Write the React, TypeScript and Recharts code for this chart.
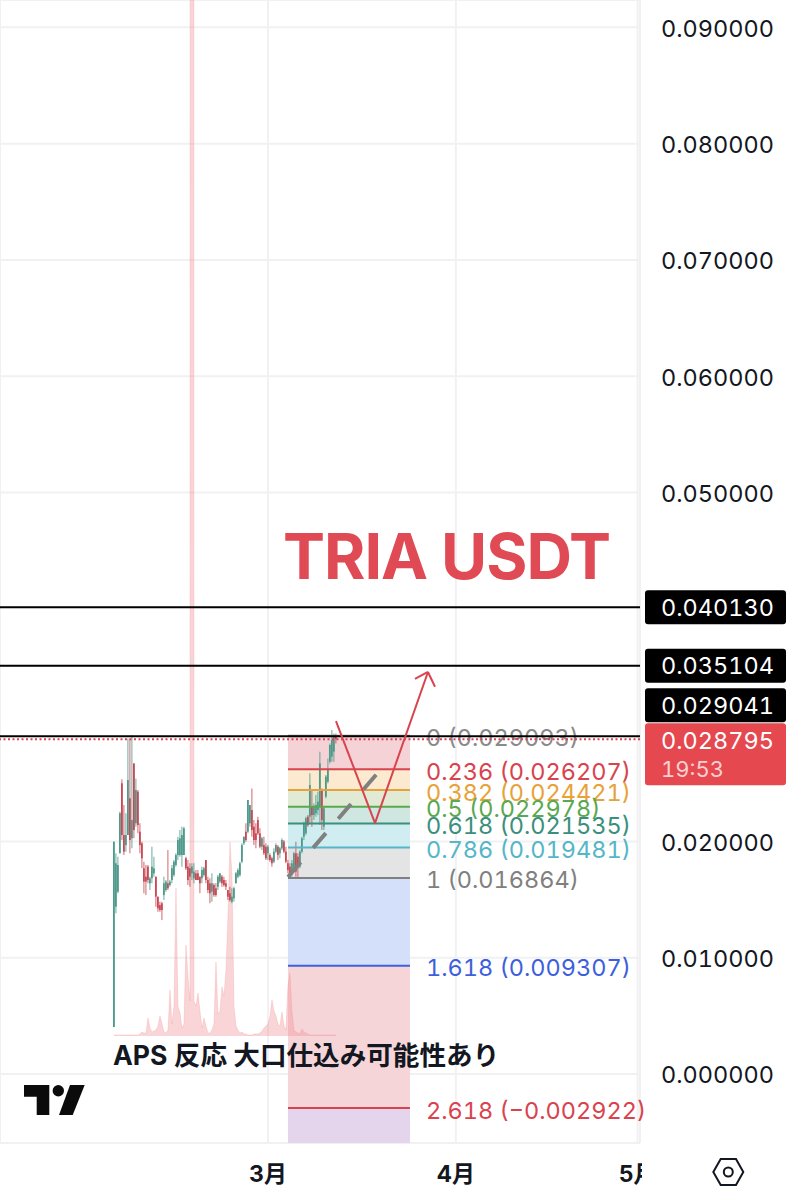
import React from 'react';
import { Area, Bar, CartesianGrid, ComposedChart, ReferenceArea, ReferenceLine, XAxis, YAxis } from 'recharts';

// x positions are days relative to 1 March, candles are about 8h apart
const candleDays = [
  -25.41, -25.08, -24.75, -24.42, -24.09, -23.76, -23.43, -23.1, -22.77, -22.44, -22.11, -21.78, -21.45, -21.12,
  -20.79, -20.46, -20.13, -19.8, -19.47, -19.14, -18.81, -18.48, -18.15, -17.82, -17.49, -17.16, -16.83, -16.5,
  -16.17, -15.84, -15.51, -15.18, -14.85, -14.52, -14.19, -13.86, -13.53, -13.2, -12.87, -12.54, -12.21, -11.88,
  -11.55, -11.22, -10.89, -10.56, -10.23, -9.9, -9.57, -9.24, -8.91, -8.58, -8.25, -7.92, -7.59, -7.26, -6.93, -6.6,
  -6.27, -5.94, -5.61, -5.28, -4.95, -4.62, -4.29, -3.96, -3.63, -3.3, -2.97, -2.64, -2.31, -1.98, -1.65, -1.32,
  -0.99, -0.66, -0.33, 0, 0.33, 0.66, 0.99, 1.32, 1.65, 1.98, 2.31, 2.64, 2.97, 3.3, 3.63, 3.96, 4.29, 4.62, 4.95,
  5.28, 5.61, 5.94, 6.27, 6.6, 6.93, 7.26, 7.59, 7.92, 8.25, 8.58, 8.91, 9.24, 9.57, 9.9, 10.23, 10.56, 10.89, 11.22,
];
const candleOpen = [
  0.00404, 0.01439, 0.01568, 0.01898, 0.025, 0.02055, 0.01969, 0.02055, 0.02371, 0.02027, 0.02671, 0.02156, 0.02428,
  0.02084, 0.01984, 0.01769, 0.01697, 0.01783, 0.0164, 0.01683, 0.01726, 0.01697, 0.01525, 0.01453, 0.01468, 0.01539,
  0.01582, 0.0164, 0.01625, 0.01668, 0.01711, 0.01797, 0.01883, 0.01883, 0.01883, 0.01883, 0.01855, 0.01783, 0.01769,
  0.01726, 0.01683, 0.01726, 0.01726, 0.01697, 0.01683, 0.01711, 0.0184, 0.01668, 0.0164, 0.01568, 0.01625, 0.01597,
  0.01611, 0.01654, 0.01697, 0.01668, 0.0164, 0.01582, 0.01554, 0.01482, 0.01511, 0.0164, 0.01697, 0.01711, 0.01826,
  0.01984, 0.02084, 0.02084, 0.02156, 0.0227, 0.02127, 0.0207, 0.02184, 0.0207, 0.01955, 0.01969, 0.01955, 0.01898,
  0.01883, 0.01855, 0.01826, 0.01912, 0.01955, 0.01898, 0.01941, 0.01998, 0.01912, 0.01812, 0.01783, 0.01726, 0.01769,
  0.01898, 0.01869, 0.01783, 0.01912, 0.02041, 0.0207, 0.02213, 0.02213, 0.02299, 0.02227, 0.02242, 0.0227, 0.02299,
  0.02442, 0.02127, 0.02385, 0.02514, 0.02686, 0.02729, 0.02772, 0.02915,
];
const candleHigh = [
  0.01998, 0.01898, 0.01869, 0.02256, 0.02534, 0.02313, 0.02242, 0.02886, 0.02886, 0.02915, 0.02671, 0.02542, 0.02442,
  0.02156, 0.01998, 0.01826, 0.01797, 0.01797, 0.01697, 0.01955, 0.01869, 0.01697, 0.01525, 0.01482, 0.01482, 0.01697,
  0.01668, 0.01926, 0.01668, 0.01797, 0.0184, 0.01898, 0.02041, 0.02098, 0.02127, 0.02127, 0.01869, 0.0184, 0.01812,
  0.01812, 0.01812, 0.01754, 0.01754, 0.01697, 0.01783, 0.01783, 0.0184, 0.01697, 0.01683, 0.01726, 0.0164, 0.0164,
  0.01711, 0.01726, 0.01711, 0.01697, 0.01668, 0.01582, 0.01611, 0.01597, 0.01611, 0.0174, 0.01769, 0.01826, 0.01984,
  0.02041, 0.02156, 0.02356, 0.02313, 0.02456, 0.02184, 0.02156, 0.02213, 0.02113, 0.02041, 0.02041, 0.01984, 0.01969,
  0.01898, 0.01869, 0.01941, 0.01984, 0.01969, 0.01955, 0.02027, 0.02012, 0.01955, 0.0184, 0.01812, 0.0184, 0.01912,
  0.01998, 0.01898, 0.01926, 0.02041, 0.0217, 0.02213, 0.02227, 0.02586, 0.02442, 0.02327, 0.02399, 0.02428, 0.02772,
  0.02456, 0.02299, 0.02571, 0.02714, 0.02843, 0.02958, 0.02929, 0.02929,
];
const candleLow = [
  0.00404, 0.01382, 0.01554, 0.01898, 0.02012, 0.01883, 0.01912, 0.02055, 0.01898, 0.01941, 0.02027, 0.02127, 0.0207,
  0.01898, 0.01769, 0.01554, 0.01539, 0.0164, 0.01582, 0.0164, 0.01697, 0.01439, 0.01396, 0.01396, 0.01324, 0.01496,
  0.01568, 0.01582, 0.01611, 0.0164, 0.01697, 0.01783, 0.0184, 0.01869, 0.01783, 0.01883, 0.01754, 0.01625, 0.01611,
  0.01668, 0.0164, 0.01668, 0.01668, 0.01554, 0.0164, 0.01697, 0.0164, 0.01554, 0.01468, 0.01482, 0.01525, 0.01525,
  0.01582, 0.0164, 0.01611, 0.01611, 0.01582, 0.01496, 0.01482, 0.01468, 0.01482, 0.0164, 0.01683, 0.01697, 0.01812,
  0.01969, 0.01998, 0.0207, 0.02127, 0.02041, 0.01969, 0.01941, 0.02055, 0.01941, 0.01926, 0.01883, 0.0184, 0.0184,
  0.01826, 0.01783, 0.01812, 0.01898, 0.0184, 0.01855, 0.01926, 0.01898, 0.01812, 0.01726, 0.01697, 0.01697, 0.01754,
  0.01697, 0.01683, 0.01769, 0.01898, 0.02012, 0.02055, 0.02127, 0.02156, 0.02127, 0.02184, 0.02213, 0.02227, 0.02141,
  0.02098, 0.02098, 0.02371, 0.025, 0.02671, 0.02686, 0.02686, 0.02843,
];
const candleClose = [
  0.01998, 0.01812, 0.01797, 0.02242, 0.02055, 0.01912, 0.02055, 0.02528, 0.02012, 0.02184, 0.02098, 0.02442, 0.02141,
  0.01969, 0.01855, 0.01654, 0.01654, 0.01668, 0.01683, 0.01783, 0.01769, 0.01525, 0.01425, 0.0141, 0.0141, 0.0164,
  0.01654, 0.01597, 0.01654, 0.01769, 0.01826, 0.01883, 0.02012, 0.02027, 0.02055, 0.02113, 0.01769, 0.01668, 0.01697,
  0.01783, 0.0174, 0.01668, 0.01668, 0.0164, 0.01754, 0.01769, 0.01668, 0.01582, 0.01554, 0.0164, 0.01539, 0.01539,
  0.01697, 0.01726, 0.0164, 0.01625, 0.01611, 0.01525, 0.01496, 0.01525, 0.01597, 0.01726, 0.01754, 0.01812, 0.01969,
  0.02041, 0.02012, 0.02356, 0.02313, 0.02098, 0.02012, 0.02012, 0.0207, 0.01955, 0.02027, 0.01898, 0.01855, 0.01955,
  0.0184, 0.01812, 0.01912, 0.01969, 0.01883, 0.01941, 0.02012, 0.01912, 0.01826, 0.01754, 0.01711, 0.01812, 0.01898,
  0.0174, 0.01783, 0.01912, 0.02027, 0.02156, 0.02199, 0.02141, 0.02485, 0.02227, 0.02299, 0.02313, 0.02342, 0.02671,
  0.02184, 0.02285, 0.02557, 0.02614, 0.02829, 0.02872, 0.02901, 0.0288,
];
// volume pane, no scale shown in the picture, units are arbitrary
const candleVolume = [
  1, 1, 1, 1, 1, 1, 1, 1, 1, 1, 1, 1, 1, 2, 4, 3, 3, 18, 8, 4, 5, 6, 10, 20, 12, 4, 3, 6, 46, 12, 30, 148, 30, 23, 8,
  12, 91, 60, 35, 20000, 35, 30, 43, 25, 8, 18, 10, 3, 3, 6, 12, 74, 22, 25, 49, 40, 66, 120, 194, 160, 30, 10, 6, 3,
  4, 2, 2, 1, 1, 1, 2, 2, 2, 3, 5, 8, 10, 12, 20, 36, 25, 20, 12, 10, 24, 10, 6, 51, 63, 25, 6, 4, 3, 2, 7, 4, 3, 2, 1,
  1, 1, 1, 1, 1, 1, 1, 1, 1, 1, 1, 1, 1,
];

const priceTicks = [0, 0.01, 0.02, 0.05, 0.06, 0.07, 0.08, 0.09];
const monthTicks = [0, 31, 61];
const monthLabels = ['3月', '4月', '5月'];

const horizontalPrices = [0.04013, 0.035104, 0.029041];
const horizontalTagTops = [-17, -17, -48];
const lastPrice = 0.028795;
const lastPriceCountdown = '19:53';

const fibStartDay = 3.3;
const fibEndDay = 23.43;
const fibRatios = ['0', '0.236', '0.382', '0.5', '0.618', '0.786', '1', '1.618', '2.618'];
const fibPrices = [0.029093, 0.026207, 0.024421, 0.022978, 0.021535, 0.019481, 0.016864, 0.009307, -0.002922];
const fibPriceTexts = ['0.029093', '0.026207', '0.024421', '0.022978', '0.021535', '0.019481', '0.016864', '0.009307', '−0.002922'];
const fibColors = ['#8a8a8a', '#d8434e', '#e8a23a', '#5ba84f', '#3a8f7d', '#55b6c8', '#808080', '#3e5fdd', '#d8434e'];
const fibZoneColors = ['#f5d2d6', '#fbe9d0', '#e1ead4', '#d0e6e0', '#d0edf2', '#e4e4e4', '#d4dffa', '#f6d5d8', '#e4d4ec'];

// hand drawn idea on the chart: [day, price]
const zigzagPath = [[11.22, 0.03035], [17.66, 0.02158], [26.4, 0.03457]];
const arrowHeadLeft = [24.26, 0.03397];
const arrowHeadRight = [27.56, 0.0333];
const dashedPath = [[3.3, 0.01694], [19.8, 0.02691]];

const PRICE_MIN = -0.00593;
const PRICE_MAX = 0.09235;
const DAY_MIN = -44.22;
const DAY_MAX = 61.39;

const FONT = "Inter, 'Noto Sans CJK JP', sans-serif";
const TABULAR = { fontFeatureSettings: "'tnum'" };
const PRICE_FONT_SIZE = 23.5;
const UP = '#4f9a8b';
const DOWN = '#c94a55';

const rows = candleDays.map((day, i) => ({
  day,
  open: candleOpen[i],
  close: candleClose[i],
  high: candleHigh[i],
  low: candleLow[i],
  range: [candleLow[i], candleHigh[i]],
  volume: candleVolume[i],
}));

const Candle = (props: any) => {
  const { x, y, width, height, payload } = props;
  const top = Math.min(y, y + height);
  const span = Math.abs(height);
  const perPrice = span / (payload.high - payload.low || 1);
  const bodyTop = top + (payload.high - Math.max(payload.open, payload.close)) * perPrice;
  const bodyHeight = Math.max(Math.abs(payload.open - payload.close) * perPrice, 1);
  const color = payload.close >= payload.open ? UP : DOWN;
  const mid = x + width / 2;
  return (
    <g>
      <line x1={mid} x2={mid} y1={top} y2={top + span} stroke={color} strokeOpacity={0.7} strokeWidth={1.2} />
      <rect x={x} y={bodyTop} width={width} height={bodyHeight} fill={color} />
    </g>
  );
};

const MonthTick = ({ x, y, payload, index }: any) => (
  <g>
    <clipPath id={`month-clip-${index}`}>
      <rect x={x - 40} y={y - 20} width={Math.min(80, 642 - (x - 40))} height={60} />
    </clipPath>
    <text
      x={x}
      y={y}
      clipPath={`url(#month-clip-${index})`}
      textAnchor="middle"
      dominantBaseline="central"
      fontFamily={FONT}
      fontWeight={700}
      fontSize={23}
      fill="#131722"
    >
      {monthLabels[monthTicks.indexOf(payload.value)]}
    </text>
  </g>
);

const FibLabel = ({ viewBox, text, color, id }: any) => (
  <g>
    <clipPath id={id}>
      <rect x={420} y={viewBox.y - 20} width={224} height={44} />
    </clipPath>
    <text
      x={426}
      y={viewBox.y + 2}
      clipPath={`url(#${id})`}
      dominantBaseline="central"
      fontFamily={FONT}
      fontSize={PRICE_FONT_SIZE}
      fill={color}
      style={TABULAR}
    >
      {text}
    </text>
  </g>
);

const PriceTag = ({ viewBox, text, top }: any) => (
  <g>
    <rect x={645} y={viewBox.y + top} width={141} height={34} rx={3} fill="#000" />
    <text
      x={661}
      y={viewBox.y + top + 17}
      dominantBaseline="central"
      fontFamily={FONT}
      fontSize={PRICE_FONT_SIZE}
      fill="#fff"
      style={TABULAR}
    >
      {text}
    </text>
  </g>
);

const LastPriceTag = ({ viewBox }: any) => (
  <g>
    <rect x={645} y={viewBox.y - 16} width={141} height={62} rx={3} fill="#e5484f" />
    <text
      x={661}
      y={viewBox.y + 1}
      dominantBaseline="central"
      fontFamily={FONT}
      fontSize={PRICE_FONT_SIZE}
      fill="#fff"
      style={TABULAR}
    >
      {lastPrice.toFixed(6)}
    </text>
    <text x={661} y={viewBox.y + 30} dominantBaseline="central" fontFamily={FONT} fontSize={22} fill="#fbcfd2" style={TABULAR}>
      {lastPriceCountdown}
    </text>
  </g>
);

const App: React.FC = () => {
  return (
    <div style={{ position: 'absolute', left: 0, top: 0, width: 812, height: 1200, background: '#fff' }}>
      <ComposedChart width={812} height={1200} data={rows} margin={{ top: 0, right: 0, bottom: 0, left: 0 }}>
        <CartesianGrid yAxisId="price" stroke="#f1f1f3" strokeWidth={2} />
        <XAxis
          dataKey="day"
          type="number"
          domain={[DAY_MIN, DAY_MAX]}
          ticks={monthTicks}
          interval={0}
          height={57}
          axisLine={false}
          tickLine={false}
          tickSize={0}
          tickMargin={31}
          tick={<MonthTick />}
        />
        <YAxis
          yAxisId="price"
          orientation="right"
          type="number"
          domain={[PRICE_MIN, PRICE_MAX]}
          ticks={priceTicks}
          interval={0}
          width={172}
          axisLine={false}
          tickLine={false}
          tickSize={0}
          tickMargin={21}
          tickFormatter={(v: number) => v.toFixed(6)}
          tick={{ fontFamily: FONT, fontSize: PRICE_FONT_SIZE, fill: '#131722', textAnchor: 'start', dy: 1, style: TABULAR }}
        />
        {/* 0 sits 107px above the plot bottom so the pane baseline lands under the candles */}
        <YAxis yAxisId="volume" hide type="number" domain={[-107, 1036]} allowDataOverflow />

        {fibZoneColors.map((color, i) => (
          <ReferenceArea
            key={`zone-${i}`}
            yAxisId="price"
            x1={fibStartDay}
            x2={fibEndDay}
            y1={fibPrices[i]}
            y2={i + 1 < fibPrices.length ? fibPrices[i + 1] : PRICE_MIN}
            fill={color}
            fillOpacity={1}
            stroke="none"
            ifOverflow="visible"
          />
        ))}

        <Area
          yAxisId="volume"
          dataKey="volume"
          type="linear"
          baseValue={0}
          stroke="#f28b91"
          strokeOpacity={0.25}
          strokeWidth={1}
          fill="#f28b91"
          fillOpacity={0.36}
          dot={false}
          activeDot={false}
          isAnimationActive={false}
        />
        <Bar yAxisId="price" dataKey="range" barSize={3} shape={<Candle />} isAnimationActive={false} />

        {fibPrices.map((price, i) => (
          <ReferenceLine
            key={`fib-${i}`}
            yAxisId="price"
            segment={[
              { x: fibStartDay, y: price },
              { x: fibEndDay, y: price },
            ]}
            stroke={fibColors[i]}
            strokeWidth={2}
            ifOverflow="visible"
            label={<FibLabel id={`fib-clip-${i}`} text={`${fibRatios[i]} (${fibPriceTexts[i]})`} color={fibColors[i]} />}
          />
        ))}

        <ReferenceLine
          yAxisId="price"
          y={lastPrice}
          stroke="#d8434e"
          strokeWidth={2}
          strokeDasharray="2 2.5"
          label={<LastPriceTag />}
        />
        {horizontalPrices.map((price, i) => (
          <ReferenceLine
            key={`level-${i}`}
            yAxisId="price"
            y={price}
            stroke="#000"
            strokeWidth={2}
            label={<PriceTag text={price.toFixed(6)} top={horizontalTagTops[i]} />}
          />
        ))}

        <ReferenceLine
          yAxisId="price"
          segment={[
            { x: dashedPath[0][0], y: dashedPath[0][1] },
            { x: dashedPath[1][0], y: dashedPath[1][1] },
          ]}
          stroke="#808080"
          strokeWidth={4}
          strokeDasharray="19.5 19"
          ifOverflow="visible"
        />
        {zigzagPath.slice(1).map((point, i) => (
          <ReferenceLine
            key={`zigzag-${i}`}
            yAxisId="price"
            segment={[
              { x: zigzagPath[i][0], y: zigzagPath[i][1] },
              { x: point[0], y: point[1] },
            ]}
            stroke="#d8434e"
            strokeWidth={2}
            ifOverflow="visible"
          />
        ))}
        {[arrowHeadLeft, arrowHeadRight].map((point, i) => (
          <ReferenceLine
            key={`arrow-${i}`}
            yAxisId="price"
            segment={[
              { x: zigzagPath[2][0], y: zigzagPath[2][1] },
              { x: point[0], y: point[1] },
            ]}
            stroke="#d8434e"
            strokeWidth={2}
            ifOverflow="visible"
          />
        ))}

        <text
          x={283}
          y={556}
          dominantBaseline="central"
          fontFamily={FONT}
          fontWeight={700}
          fontSize={63}
          letterSpacing={-1}
          fill="#e04a54"
        >
          TRIA USDT
        </text>

        {/* TradingView mark */}
        <path d="M24 1085H49.3V1115H36.7V1096.7H24Z" fill="#0b0b0b" />
        <circle cx={58.3} cy={1090.7} r={5.7} fill="#0b0b0b" />
        <path d="M70 1085H84.7L72.7 1115H59Z" fill="#0b0b0b" />

        {/* settings icon under the price scale */}
        <path d="M713.3 1172L720.7 1159H736L743.3 1172L736 1185H720.7Z" fill="none" stroke="#131722" strokeWidth={2} />
        <circle cx={728.3} cy={1172} r={4.5} fill="none" stroke="#131722" strokeWidth={2} />
      </ComposedChart>
      {/* note sits on top of the fib zones, so it goes above the svg */}
      <div
        style={{
          position: 'absolute',
          left: 113,
          top: 1037,
          fontFamily: FONT,
          fontWeight: 700,
          fontSize: 26.6,
          lineHeight: '36px',
          color: '#131722',
          whiteSpace: 'nowrap',
        }}
      >
        APS 反応 大口仕込み可能性あり
      </div>
    </div>
  );
};

export default App;
